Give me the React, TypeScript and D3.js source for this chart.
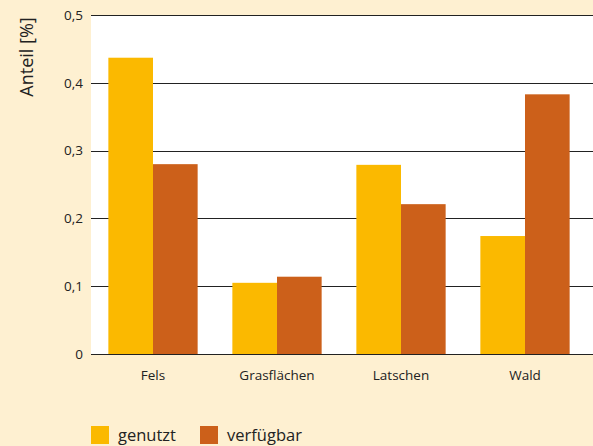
import { useEffect, useRef } from 'react'
import * as d3 from 'd3'

const categories = ['Fels', 'Grasflächen', 'Latschen', 'Wald']
const seriesNames = ['genutzt', 'verfügbar']
const genutzt = [0.437, 0.105, 0.279, 0.174]
const verfuegbar = [0.28, 0.114, 0.221, 0.383]
const yTicks = [0, 0.1, 0.2, 0.3, 0.4, 0.5]
const colors = ['#fbb900', '#cc601a']

export default () => {
  const rootRef = useRef<SVGSVGElement>(null)

  useEffect(() => {
    const width = 593,
      height = 446
    const margin = { top: 15, right: 6, bottom: 92, left: 91 }

    const svg = d3.select(rootRef.current)
    svg.selectAll('*').remove()

    svg.append('rect').attr('width', width).attr('height', height).attr('fill', '#fef0d1')

    const x0 = d3
      .scaleBand<string>()
      .domain(categories)
      .range([margin.left, width - margin.right])
      .paddingInner(0.28)
      .paddingOuter(0.14)
    const x1 = d3.scaleBand<string>().domain(seriesNames).range([0, x0.bandwidth()])
    const y = d3
      .scaleLinear()
      .domain([0, 0.5])
      .range([height - margin.bottom, margin.top])

    // white plot area
    svg
      .append('rect')
      .attr('x', margin.left)
      .attr('y', y(0.5))
      .attr('width', width - margin.left)
      .attr('height', y(0) - y(0.5))
      .attr('fill', '#ffffff')

    // grid + ticks
    const fmt = (d: number) => (d === 0 ? '0' : d3.format('.1f')(d).replace('.', ','))
    const grid = svg.append('g')
    grid
      .selectAll('line')
      .data(yTicks)
      .join('line')
      .attr('x1', margin.left)
      .attr('x2', width)
      .attr('y1', (d) => Math.round(y(d)) + 0.5)
      .attr('y2', (d) => Math.round(y(d)) + 0.5)
      .attr('stroke', '#222')
      .attr('stroke-width', 1.2)
    grid
      .selectAll('text')
      .data(yTicks)
      .join('text')
      .attr('x', 83)
      .attr('y', (d) => y(d))
      .attr('dy', '0.35em')
      .attr('text-anchor', 'end')
      .attr('font-family', 'Open Sans, sans-serif')
      .attr('font-size', 13.5)
      .attr('fill', '#222')
      .text(fmt)

    // bars
    const series = [genutzt, verfuegbar]
    seriesNames.forEach((name, si) => {
      svg
        .append('g')
        .selectAll('rect')
        .data(categories)
        .join('rect')
        .attr('x', (c) => (x0(c) ?? 0) + (x1(name) ?? 0))
        .attr('y', (c, i) => y(series[si][i]))
        .attr('width', x1.bandwidth())
        .attr('height', (c, i) => y(0) - y(series[si][i]))
        .attr('fill', colors[si])
    })

    // zero line on top of bars
    svg
      .append('line')
      .attr('x1', margin.left)
      .attr('x2', width)
      .attr('y1', Math.round(y(0)) + 0.5)
      .attr('y2', Math.round(y(0)) + 0.5)
      .attr('stroke', '#222')
      .attr('stroke-width', 1.2)

    // category labels
    svg
      .append('g')
      .selectAll('text')
      .data(categories)
      .join('text')
      .attr('x', (c) => (x0(c) ?? 0) + x0.bandwidth() / 2)
      .attr('y', 380)
      .attr('text-anchor', 'middle')
      .attr('font-family', 'Open Sans, sans-serif')
      .attr('font-size', 13.5)
      .attr('fill', '#222')
      .text((c) => c)

    // y axis title
    svg
      .append('text')
      .attr('transform', 'translate(33,57) rotate(-90)')
      .attr('text-anchor', 'middle')
      .attr('font-family', 'Open Sans, sans-serif')
      .attr('font-size', 18)
      .attr('fill', '#222')
      .text('Anteil [%]')

    // legend
    const legendX = [91, 200]
    const lg = svg.append('g')
    seriesNames.forEach((name, i) => {
      lg.append('rect')
        .attr('x', legendX[i])
        .attr('y', 426)
        .attr('width', 18)
        .attr('height', 18)
        .attr('fill', colors[i])
      lg.append('text')
        .attr('x', legendX[i] + 27)
        .attr('y', 441)
        .attr('font-family', 'Open Sans, sans-serif')
        .attr('font-size', 16.5)
        .attr('fill', '#222')
        .text(name)
    })
  }, [])

  return <svg ref={rootRef} width={593} height={446} style={{ position: 'absolute', left: 0, top: 0 }}></svg>
}
